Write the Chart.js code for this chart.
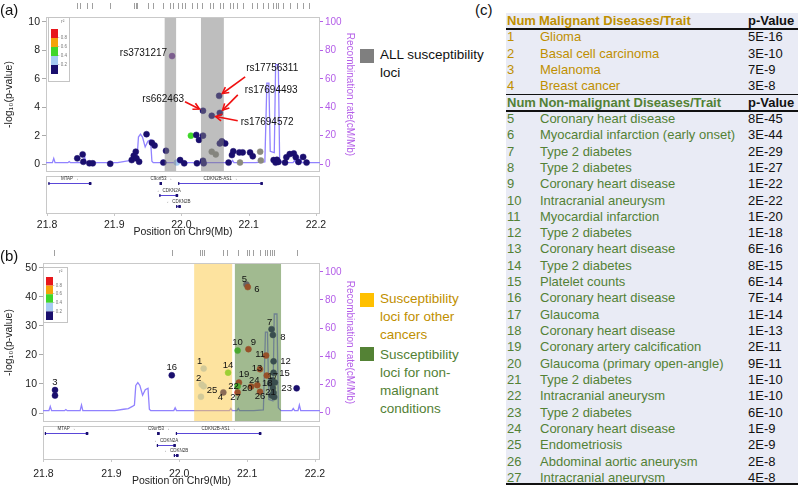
<!DOCTYPE html>
<html>
<head>
<meta charset="utf-8">
<script src="https://cdn.jsdelivr.net/npm/chart.js@4.4.0/dist/chart.umd.min.js"></script>
<style>
body { margin: 0; width: 800px; height: 487px; position: relative; background: #fff; overflow: hidden;
       font-family: 'Liberation Sans', Arial, sans-serif; color: #111; }
canvas { position: absolute; left: 0; }
.tag { position: absolute; font-size: 15px; line-height: 16px; }
.sw { position: absolute; left: 360px; width: 14px; height: 14px; }
.leg { position: absolute; left: 380px; font-size: 13.5px; line-height: 18px; }
#tbl { position: absolute; left: 506px; top: 13px; width: 292px; height: 472px; background: #e9ebf5; }
.row { position: absolute; left: 0; width: 292px; height: 16px; font-size: 13px; line-height: 16px; white-space: nowrap; }
.row span { position: absolute; top: 0; }
.hl { position: absolute; left: 0; width: 292px; background: #111; }
</style>
</head>
<body>
<canvas id="chartA" width="356" height="245" style="top:0"></canvas>
<canvas id="chartB" width="356" height="242" style="top:245px"></canvas>

<div class="tag" style="left:0;top:2px">(a)</div>
<div class="tag" style="left:0;top:248px">(b)</div>
<div class="tag" style="left:475px;top:2px">(c)</div>

<div class="sw" style="top:49px;background:#7f7f7f"></div>
<div class="leg" style="top:46px">ALL susceptibility<br>loci</div>
<div class="sw" style="top:293px;background:#ffc000"></div>
<div class="leg" style="top:290px;color:#bf8f00">Susceptibility<br>loci for other<br>cancers</div>
<div class="sw" style="top:347px;background:#548235"></div>
<div class="leg" style="top:346px;color:#538135">Susceptibility<br>loci for non-<br>malignant<br>conditions</div>

<div id="tbl"></div>

<script>
// ---- axis ticks ----
const xTicks = [21.8, 21.9, 22.0, 22.1, 22.2];
const logpTicksA = [0, 2, 4, 6, 8, 10];
const logpTicksB = [0, 10, 20, 30, 40, 50];
const recombTicks = [0, 20, 40, 60, 80, 100];

// ---- recombination rate along chr9 (cM/Mb) ----
const recombPos = [21.798, 21.808, 21.810, 21.812, 21.831, 21.833, 21.835, 21.854, 21.856, 21.858,
  21.905, 21.918, 21.925, 21.931, 21.934, 21.936, 21.939, 21.942, 21.946, 21.950, 21.954, 21.956, 21.958,
  21.975, 21.992, 21.994, 21.996, 22.030, 22.074, 22.076, 22.078, 22.085, 22.087, 22.089, 22.110,
  22.124, 22.127, 22.130, 22.132, 22.138, 22.140, 22.144, 22.146, 22.150, 22.160,
  22.166, 22.168, 22.170, 22.175, 22.177, 22.179, 22.208];
const recombRate = [1, 1, 4, 1, 1, 1.8, 1, 1, 5, 1,
  1, 2, 2.5, 4, 5, 19, 21, 19, 12, 16, 17, 2, 1,
  1, 1, 3, 1, 1, 1, 2.5, 1, 1, 2.5, 1, 1,
  1.5, 57, 57, 9, 8, 70, 70, 3, 1, 1,
  1, 2.5, 1, 1, 5, 1, 1];

// ---- panel (a): SNPs, position (Mb), -log10(p), r2 (null = no LD, 1 = index) ----
const snpPosA = [21.845, 21.853, 21.854, 21.863, 21.868, 21.894, 21.926, 21.929, 21.932, 21.933,
  21.937, 21.948, 21.956, 21.960, 21.973, 21.977, 21.993, 21.998, 22.004, 22.014,
  22.022, 22.026, 22.032, 22.023, 22.032, 22.033, 22.045, 22.051, 22.057, 22.060,
  22.065, 22.070, 22.075, 22.077, 22.086, 22.087, 22.091, 22.102, 22.106, 22.117,
  22.118, 22.137, 22.140, 22.142, 22.144, 22.154, 22.156, 22.161, 22.167, 22.170,
  22.174, 22.181, 22.186];
const snpLogpA = [0.40, 0.68, 0.16, 0.05, 0.05, 0.02, 0.28, 0.58, 0.87, 0.40,
  0.16, 2.10, 1.50, 1.30, 0.10, 0.93, 0.10, 0.28, 0.05, 2.00,
  2.05, 1.70, 2.00, 0.05, 0.23, 0.05, 0.87, 0.68, 1.45, 1.60,
  1.45, 0.10, 0.63, 0.90, 0.82, 0.10, 0.82, 0.82, 0.55, 0.87,
  0.25, 0.28, 0.10, 0.30, 0.15, 0.10, 0.48, 0.70, 0.75, 0.48,
  0.15, 0.50, 0.10];
const snpR2A = [0.1, 0.1, 0.1, 0.1, 0.1, 0.1, 0.1, 0.1, 0.1, 0.1,
  0.1, 0.1, 0.1, 0.1, 0.1, 0.1, 0.3, 0.1, 0.1, 0.5,
  0.1, 0.1, 0.1, 0.1, 0.1, 0.1, null, null, 0.1, 0.1,
  0.1, 0.1, 0.1, 0.1, 0.1, null, 0.1, 0.1, 0.1, null,
  null, 0.1, 0.1, 0.1, 0.1, 0.1, 0.1, 0.1, 0.1, 0.1,
  0.1, 0.1, 0.1];

// named SNPs in (a)
const rsNames = ['rs3731217', 'rs662463', 'rs17694572', 'rs17756311', 'rs17694493'];
const rsPos = [21.986, 22.032, 22.045, 22.056, 22.057];
const rsLogp = [7.6, 3.75, 3.4, 4.8, 3.6];
const rsR2 = [1, 0.1, 0.1, 0.1, 0.1];

// ---- panel (b): reported GWAS hits (num = row in table c) ----
const assocNum = [1, 2, null, 3, null, 4, 5, 6, 7, 8, 9, 10, 11, 12, 13, 14, 15, 16, 17, 18,
  19, 20, 21, 22, 23, 24, 25, 26, 27, null, null, null, null, null];
const assocPos = [22.036, 22.033, 22.036, 21.817, 21.817, 22.065, 22.099, 22.101, 22.136, 22.138,
  22.102, 22.086, 22.128, 22.139, 22.119, 22.072, 22.139, 21.989, 22.129, 22.134,
  22.088, 22.106, 22.139, 22.086, 22.173, 22.115, 22.032, 22.119, 22.086,
  22.137, 22.141, 22.138, 22.136, 22.140];
const assocLogp = [15.3, 9.8, 9.2, 7.9, 6.0, 7.1, 44.3, 43.4, 28.9, 26.9,
  22.0, 21.5, 19.8, 17.8, 15.1, 13.9, 13.9, 13.0, 12.9, 10.2,
  10.5, 9.1, 7.0, 9.2, 8.5, 9.6, 5.6, 7.3, 7.1,
  11.3, 10.5, 8.6, 6.0, 5.5];
const assocR2 = [0.3, 0.3, 0.3, 0.1, 0.1, 0.1, 1, 0.9, 0.1, 0.1,
  0.9, 0.5, 0.9, 0.1, 0.9, 0.5, 0.1, 0.1, 0.9, 0.1,
  0.9, 0.9, 0.1, 0.5, 0.1, 0.9, 0.3, 0.9, 0.9,
  0.1, 0.1, 0.1, 0.1, 0.1];

// highlighted loci
const bandsA = [[21.975, 21.992], [22.029, 22.063]];
const cancerBand = [22.022, 22.078];
const nonMalBand = [22.082, 22.150];

// SNP rug along the top
const rugA = [21.845, 21.849, 21.859, 21.867, 21.894, 21.929, 21.932, 21.934, 21.950, 21.958,
  21.972, 21.983, 21.987, 21.995, 22.001, 22.005, 22.016, 22.023, 22.030, 22.042, 22.047,
  22.057, 22.062, 22.072, 22.077, 22.083, 22.091, 22.105, 22.112, 22.121, 22.129, 22.136,
  22.141, 22.143, 22.151, 22.161, 22.172, 22.181, 22.190];
const rugB = [21.816, 21.989, 22.031, 22.033, 22.036, 22.065, 22.071, 22.086, 22.100, 22.103,
  22.108, 22.119, 22.126, 22.130, 22.133, 22.136, 22.140, 22.173];

// genes
const geneName = ['MTAP', 'C9orf53', 'CDKN2B-AS1', 'CDKN2A', 'CDKN2B'];
const geneStart = [21.802, 21.969, 21.995, 21.967, 21.992];
const geneEnd = [21.866, 21.971, 22.121, 21.995, 21.999];
const geneRow = [0, 0, 0, 1, 2];
const geneStrand = [1, 1, 1, -1, -1];

// table (c)
const malNum = [1, 2, 3, 4];
const malTrait = ['Glioma', 'Basal cell carcinoma', 'Melanoma', 'Breast cancer'];
const malP = ['5E-16', '3E-10', '7E-9', '3E-8'];
const nonNum = [5, 6, 7, 8, 9, 10, 11, 12, 13, 14, 15, 16, 17, 18, 19, 20, 21, 22, 23, 24, 25, 26, 27];
const nonTrait = ['Coronary heart disease', 'Myocardial infarction (early onset)', 'Type 2 diabetes',
  'Type 2 diabetes', 'Coronary heart disease', 'Intracranial aneurysm', 'Myocardial infarction',
  'Type 2 diabetes', 'Coronary heart disease', 'Type 2 diabetes', 'Platelet counts',
  'Coronary heart disease', 'Glaucoma', 'Coronary heart disease', 'Coronary artery calcification',
  'Glaucoma (primary open-angle)', 'Type 2 diabetes', 'Intracranial aneurysm', 'Type 2 diabetes',
  'Coronary heart disease', 'Endometriosis', 'Abdominal aortic aneurysm', 'Intracranial aneurysm'];
const nonP = ['8E-45', '3E-44', '2E-29', '1E-27', '1E-22', '2E-22', '1E-20', '1E-18', '6E-16', '8E-15',
  '6E-14', '7E-14', '1E-14', '1E-13', '2E-11', '9E-11', '1E-10', '1E-10', '6E-10', '1E-9',
  '2E-9', '2E-8', '4E-8'];

// ---- styles ----
const FONT = "'Liberation Sans', Arial, sans-serif";
const PURPLE_AXIS = '#b45ee8';
const RECOMB_COLOR = '#9182ff';
const GOLD = '#bf8f00', GREEN = '#538135';
Chart.defaults.font.family = FONT;

function r2Color(r2) {
  if (r2 === null) return '#8b8b7e';
  if (r2 >= 1) return '#7b3f9e';
  if (r2 >= 0.8) return '#e8161b';
  if (r2 >= 0.6) return '#f5a20a';
  if (r2 >= 0.4) return '#3fd62a';
  if (r2 >= 0.2) return '#a6cbf3';
  return '#1a0f6e';
}

// label placements (pixels from the point)
const rsStyle = [
  { dx: -5, dy: -3, align: 'right', arrow: null },
  { dx: -19, dy: -12, align: 'right', arrow: [-18, -9] },
  { dx: 29, dy: 7, align: 'left', arrow: [26, 5] },
  { dx: 27, dy: -28, align: 'left', arrow: [26, -19] },
  { dx: 25, dy: -23, align: 'left', arrow: [18, -18] }
];
const numOffset = { 1: [-4, -7], 2: [-3, -6], 3: [0, -8], 4: [-3, 5], 5: [-2, -5], 6: [9, 2], 7: [-2, -7],
  8: [10, 2], 9: [5, -7], 10: [0, -8], 11: [-6, -1], 12: [12, 0], 13: [-3, -1], 14: [0, -7], 15: [11, 1],
  16: [0, -8], 17: [6, 1], 18: [-3, 0], 19: [5, -8], 20: [-4, 2], 21: [-3, 0], 22: [-4, 0], 23: [-10, 0],
  24: [-3, -5], 25: [11, -6], 26: [0, 5], 27: [-2, 5] };

function drawArrow(ctx, x0, y0, x1, y1) {
  const ang = Math.atan2(y1 - y0, x1 - x0);
  const ex = x1 - Math.cos(ang) * 4, ey = y1 - Math.sin(ang) * 4;
  ctx.strokeStyle = '#f01010';
  ctx.lineWidth = 1.6;
  ctx.beginPath(); ctx.moveTo(x0, y0); ctx.lineTo(ex, ey); ctx.stroke();
  ctx.beginPath();
  ctx.moveTo(ex - 7 * Math.cos(ang - 0.5), ey - 7 * Math.sin(ang - 0.5));
  ctx.lineTo(ex, ey);
  ctx.lineTo(ex - 7 * Math.cos(ang + 0.5), ey - 7 * Math.sin(ang + 0.5));
  ctx.stroke();
}

function drawInset(ctx, x, y, w, h, blockTop, blockH) {
  ctx.fillStyle = '#fff';
  ctx.fillRect(x, y, w, h);
  ctx.strokeStyle = '#c4c4c4'; ctx.lineWidth = 1;
  ctx.strokeRect(x + 0.5, y + 0.5, w - 1, h - 1);
  const cols = ['#e8161b', '#f5a20a', '#3fd62a', '#a6cbf3', '#1a0f6e'];
  const labs = ['0.8', '0.6', '0.4', '0.2'];
  cols.forEach((c, i) => {
    ctx.fillStyle = c;
    ctx.fillRect(x + 3, y + blockTop + i * blockH, 7, blockH);
  });
  ctx.fillStyle = '#777'; ctx.font = '4.5px ' + FONT; ctx.textAlign = 'left'; ctx.textBaseline = 'middle';
  labs.forEach((l, i) => ctx.fillText('- ' + l, x + 10, y + blockTop + (i + 1) * blockH));
  ctx.font = '5px ' + FONT;
  ctx.fillText('r²', x + w - 9, y + 5);
}

function drawGenes(ctx, xs, left, right, top, h, rowY) {
  ctx.strokeStyle = '#c8c8c8'; ctx.lineWidth = 1;
  ctx.strokeRect(left + 0.5, top + 0.5, right - left - 1, h);
  // tick marks under the gene box
  xTicks.forEach(v => {
    const x = Math.round(xs.getPixelForValue(v)) + 0.5;
    ctx.beginPath(); ctx.moveTo(x, top + h); ctx.lineTo(x, top + h + 3); ctx.stroke();
  });
  ctx.font = '4.5px ' + FONT; ctx.textAlign = 'center'; ctx.textBaseline = 'bottom';
  geneName.forEach((g, i) => {
    const x0 = xs.getPixelForValue(geneStart[i]), x1 = xs.getPixelForValue(geneEnd[i]);
    const y = top + rowY[geneRow[i]] + 0.5;
    ctx.strokeStyle = '#5a48d8';
    ctx.beginPath(); ctx.moveTo(x0, y); ctx.lineTo(x1, y); ctx.stroke();
    ctx.fillStyle = '#1a0f6e';
    ctx.fillRect(x0, y - 1.5, 1.2, 3);
    ctx.fillRect(x1 - 2.5, y - 1.5, 2.5, 3);
    ctx.fillStyle = '#333';
    const txt = geneStrand[i] > 0 ? g + ' \u2192' : '\u2190 ' + g;
    ctx.fillText(txt, (x0 + x1) / 2, y - 2);
  });
}

function panelPlugin(p) {
  return {
    id: 'panel' + p.tag,
    beforeDatasetsDraw(chart) {
      const { ctx, chartArea: a } = chart;
      ctx.save();
      ctx.strokeStyle = '#c9c9c9'; ctx.lineWidth = 1;
      ctx.strokeRect(a.left + 0.5, a.top + 0.5, a.right - a.left - 1, a.bottom - a.top - 1);
      ctx.restore();
    },
    afterDatasetsDraw(chart) {
      const { ctx, chartArea: a, scales } = chart;
      const xs = scales.x, ys = scales.y;
      ctx.save();
      p.bands.forEach((b, i) => {
        const x0 = xs.getPixelForValue(b[0]), x1 = xs.getPixelForValue(b[1]);
        ctx.fillStyle = p.bandColors[i];
        ctx.fillRect(x0, a.top + 1, x1 - x0, a.bottom - a.top - 2);
      });
      p.annotate(ctx, xs, ys);
      drawInset(ctx, a.left + p.inset[0], a.top + p.inset[1], p.inset[2], p.inset[3], p.inset[4], p.inset[5]);
      ctx.strokeStyle = '#a0a0a0'; ctx.lineWidth = 1;
      p.rug.forEach(v => {
        const x = Math.round(xs.getPixelForValue(v)) + 0.5;
        ctx.beginPath(); ctx.moveTo(x, p.rugY); ctx.lineTo(x, p.rugY + 6); ctx.stroke();
      });
      drawGenes(ctx, xs, a.left, a.right, a.bottom + 4, p.geneH, p.geneRows);
      ctx.restore();
    }
  };
}

function makeScales(p) {
  return {
    x: {
      type: 'linear', min: p.xMin, max: p.xMax,
      afterFit: s => { s.height = p.xH; },
      afterBuildTicks: s => { s.ticks = xTicks.map(v => ({ value: v })); },
      grid: { display: false }, border: { display: false },
      // tall line height pushes the labels below the gene track
      ticks: { padding: 0, color: '#222', font: { size: 10.5, lineHeight: p.xLabelLH }, maxRotation: 0, autoSkip: false,
               callback: v => v.toFixed(1) },
      title: { display: true, text: 'Position on Chr9(Mb)', color: '#222', font: { size: 10.5 }, padding: { top: 0, bottom: p.xTitlePad } }
    },
    y: {
      position: 'left', min: p.yMin, max: p.yMax,
      afterFit: s => { s.width = p.yW; },
      afterBuildTicks: s => { s.ticks = p.yTicks.map(v => ({ value: v })); },
      grid: { drawOnChartArea: false, tickLength: 4, color: '#aaa' }, border: { display: false },
      ticks: { padding: 2, color: '#222', font: { size: 10.5 } },
      title: { display: true, text: '-log\u2081\u2080(p-value)', color: '#222', font: { size: 10.5 }, padding: { top: 3, bottom: 0 } }
    },
    yR: {
      position: 'right', min: p.rMin, max: p.rMax,
      afterFit: s => { s.width = 36; },
      afterBuildTicks: s => { s.ticks = recombTicks.map(v => ({ value: v })); },
      grid: { drawOnChartArea: false, tickLength: 3, color: PURPLE_AXIS }, border: { display: false },
      ticks: { padding: 2, color: PURPLE_AXIS, font: { size: 10 } },
      title: { display: true, text: 'Recombination rate(cM/Mb)', color: PURPLE_AXIS, font: { size: 10 }, padding: { top: 0, bottom: 0 } }
    }
  };
}

function makeChart(id, points, colors, p) {
  return new Chart(document.getElementById(id), {
    type: 'scatter',
    data: {
      datasets: [
        { type: 'scatter', data: points, yAxisID: 'y', order: 0,
          pointRadius: 3, pointHoverRadius: 3, pointBackgroundColor: colors,
          pointBorderColor: colors, pointBorderWidth: 0.5 },
        { type: 'line', data: recombPos.map((x, i) => ({ x: x, y: recombRate[i] })), yAxisID: 'yR', order: 1,
          borderColor: RECOMB_COLOR, borderWidth: 1.3, pointRadius: 0, tension: 0, fill: false }
      ]
    },
    options: {
      responsive: false, animation: false,
      layout: { padding: { top: p.top, left: 0, right: 0, bottom: 0 } },
      plugins: { legend: { display: false }, tooltip: { enabled: false } },
      scales: makeScales(p)
    },
    plugins: [panelPlugin(p)]
  });
}

// ---- panel (a) ----
const ptsA = snpPosA.map((x, i) => ({ x: x, y: snpLogpA[i] })).concat(rsPos.map((x, i) => ({ x: x, y: rsLogp[i] })));
const colA = snpR2A.map(r2Color).concat(rsR2.map(r2Color));
makeChart('chartA', ptsA, colA, {
  tag: 'A', top: 17, xMin: 21.7985, xMax: 22.206, xH: 73, xLabelLH: '91px', xTitlePad: 7, yW: 46,
  yMin: -0.56, yMax: 10.35, yTicks: logpTicksA, rMin: -5.6, rMax: 103.5,
  bands: bandsA, bandColors: ['rgba(125,125,125,0.5)', 'rgba(125,125,125,0.5)'],
  inset: [2, 0, 22, 65, 12, 9], rug: rugA, rugY: 3, geneH: 37, geneRows: [7, 19, 30],
  annotate(ctx, xs, ys) {
    ctx.font = '10px ' + FONT; ctx.fillStyle = '#111'; ctx.textBaseline = 'middle';
    rsNames.forEach((name, i) => {
      const px = xs.getPixelForValue(rsPos[i]), py = ys.getPixelForValue(rsLogp[i]);
      const st = rsStyle[i];
      ctx.fillStyle = '#111'; ctx.textAlign = st.align;
      ctx.fillText(name, px + st.dx, py + st.dy);
      if (st.arrow) drawArrow(ctx, px + st.arrow[0], py + st.arrow[1], px, py);
    });
  }
});

// ---- panel (b) ----
const ptsB = assocPos.map((x, i) => ({ x: x, y: assocLogp[i] }));
const colB = assocR2.map(r2Color);
makeChart('chartB', ptsB, colB, {
  tag: 'B', top: 18, xMin: 21.7993, xMax: 22.2074, xH: 65, xLabelLH: '88px', xTitlePad: 0, yW: 43,
  yMin: -3.1, yMax: 51.7, yTicks: logpTicksB, rMin: -7.1, rMax: 106.4,
  bands: [cancerBand, nonMalBand], bandColors: ['rgba(252,200,64,0.5)', 'rgba(84,130,53,0.55)'],
  inset: [0, 4, 25, 56, 10, 8.6], rug: rugB, rugY: 5, geneH: 33, geneRows: [7, 19, 29],
  annotate(ctx, xs, ys) {
    ctx.font = '9.5px ' + FONT; ctx.fillStyle = '#111'; ctx.textAlign = 'center'; ctx.textBaseline = 'middle';
    assocNum.forEach((n, i) => {
      if (n === null) return;
      const off = numOffset[n];
      ctx.fillText(String(n), xs.getPixelForValue(assocPos[i]) + off[0], ys.getPixelForValue(assocLogp[i]) + off[1]);
    });
  }
});

// ---- table (c) ----
const tbl = document.getElementById('tbl');
const ROW_H = 16.32;
const rows = [];
rows.push({ head: true, color: GOLD, cells: ['Num', 'Malignant Diseases/Trait', 'p-Value'] });
malNum.forEach((n, i) => rows.push({ color: GOLD, cells: [n, malTrait[i], malP[i]] }));
rows.push({ head: true, color: GREEN, cells: ['Num', 'Non-malignant Diseases/Trait', 'p-Value'] });
nonNum.forEach((n, i) => rows.push({ color: GREEN, cells: [n, nonTrait[i], nonP[i]] }));
const colX = [1, 34, 242];
rows.forEach((r, k) => {
  const d = document.createElement('div');
  d.className = 'row';
  d.style.top = (k * ROW_H) + 'px';
  if (r.head) d.style.fontWeight = 'bold';
  r.cells.forEach((c, j) => {
    const s = document.createElement('span');
    s.textContent = c;
    s.style.left = (r.head && j === 1 ? 33 : colX[j]) + 'px';
    s.style.color = j === 2 ? '#111' : r.color;
    d.appendChild(s);
  });
  tbl.appendChild(d);
});
[[15, 1.5], [81, 1], [97, 1.5], [470, 2]].forEach(l => {
  const h = document.createElement('div');
  h.className = 'hl';
  h.style.top = l[0] + 'px';
  h.style.height = l[1] + 'px';
  tbl.appendChild(h);
});
</script>
</body>
</html>
